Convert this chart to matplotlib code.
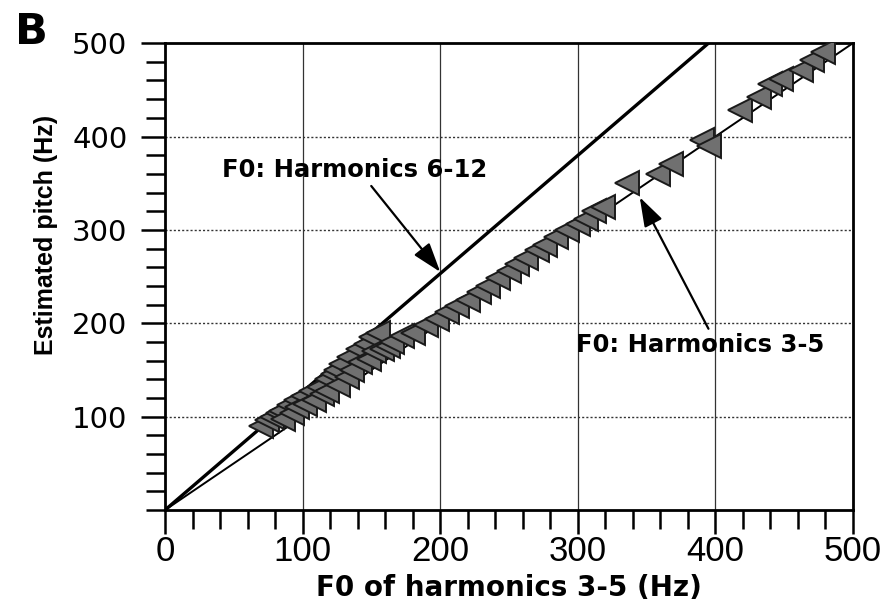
import matplotlib
matplotlib.use("Agg")
import matplotlib.pyplot as plt
from matplotlib.ticker import MultipleLocator

# ---- data ----
f0_h35 = [70, 74, 78, 82, 84, 86, 90, 92, 95, 96, 100, 102, 106, 108, 112, 114,
          118, 118, 122, 124, 126, 128, 132, 134, 136, 140, 142, 146, 148, 150,
          152, 155, 158, 162, 165, 172, 180, 190, 198, 205,
          212, 220, 228, 235, 242, 250, 256, 262, 270, 276, 284, 292, 300, 306,
          312, 318, 336, 358, 368, 390, 395, 418, 432, 440, 448, 462, 470, 478]
est_pitch = [90, 96, 100, 104, 106, 98, 112, 104, 118, 110, 122, 114, 127, 118, 132, 124,
             140, 128, 146, 150, 134, 156, 142, 164, 150, 172, 158, 178, 162, 185,
             170, 190, 172, 176, 180, 186, 190, 198, 205, 212,
             218, 225, 233, 240, 248, 256, 264, 270, 278, 284, 292, 300, 306, 312,
             320, 325, 350, 360, 371, 396, 390, 428, 442, 456, 462, 471, 482, 490]

line35_x = [0, 500]
line35_y = [0, 500]
line612_x = [0, 395]
line612_y = [0, 500]

label_612 = "F0: Harmonics 6-12"
label_35 = "F0: Harmonics 3-5"
xlabel = "F0 of harmonics 3-5 (Hz)"
ylabel = "Estimated pitch (Hz)"
panel = "B"

fig = plt.figure(figsize=(8.88, 6.16), dpi=100)
ax = fig.add_axes([0.1858, 0.172, 0.7748, 0.758])

ax.plot(line612_x, line612_y, color="black", lw=2.4, zorder=3)
ax.plot(line35_x, line35_y, color="black", lw=1.4, zorder=3)
ax.plot(f0_h35, est_pitch, linestyle="none", marker="<", markersize=17,
        markerfacecolor="#707070", markeredgecolor="#1a1a1a", markeredgewidth=1.4,
        zorder=4)

ax.set_xlim(0, 500)
ax.set_ylim(0, 500)
ax.xaxis.set_major_locator(MultipleLocator(100))
ax.xaxis.set_minor_locator(MultipleLocator(20))
ax.yaxis.set_minor_locator(MultipleLocator(20))
ax.set_yticks([100, 200, 300, 400, 500])

for s in ax.spines.values():
    s.set_linewidth(2.0)
ax.tick_params(which="major", direction="out", length=17, width=1.8)
ax.tick_params(which="minor", direction="out", length=14, width=1.8)
ax.tick_params(axis="y", which="major", pad=10, labelsize=21,
               labelfontfamily="DejaVu Sans")
ax.tick_params(axis="x", which="major", pad=1, labelsize=25,
               labelfontfamily="Liberation Sans")

# grid: vertical solid, horizontal dotted
for v in [100, 200, 300, 400]:
    ax.axvline(v, color="#333333", lw=0.9, zorder=1)
    ax.axhline(v, color="#333333", lw=1.0, linestyle=(0, (1.5, 1.5)), zorder=1)

ax.set_xlabel(xlabel, fontsize=20, fontweight="bold", family="DejaVu Sans",
              labelpad=4)
ax.set_ylabel(ylabel, fontsize=18, fontweight="bold", family="Liberation Sans")
ax.yaxis.set_label_coords((58 - 165) / 688, (510 - 235) / 467)

arrow_kw = dict(arrowstyle="-|>,head_length=0.9,head_width=0.3", color="black",
                lw=1.6, mutation_scale=20, shrinkA=1, shrinkB=0)
ax.annotate(label_612, xy=(200, 255), xytext=(138, 364), ha="center", va="center",
            fontsize=17.5, fontweight="bold", family="DejaVu Sans",
            arrowprops=dict(relpos=(0.55, 0.0), **arrow_kw), zorder=5)
ax.annotate(label_35, xy=(345, 335), xytext=(299, 177), ha="left", va="center",
            fontsize=17.5, fontweight="bold", family="DejaVu Sans",
            arrowprops=dict(relpos=(0.54, 1.0), **arrow_kw), zorder=5)

fig.text(15 / 888, 1 - 32 / 616, panel, fontsize=31, fontweight="bold",
         family="DejaVu Sans", va="center", ha="left")

fig.savefig("out.png", dpi=100)
